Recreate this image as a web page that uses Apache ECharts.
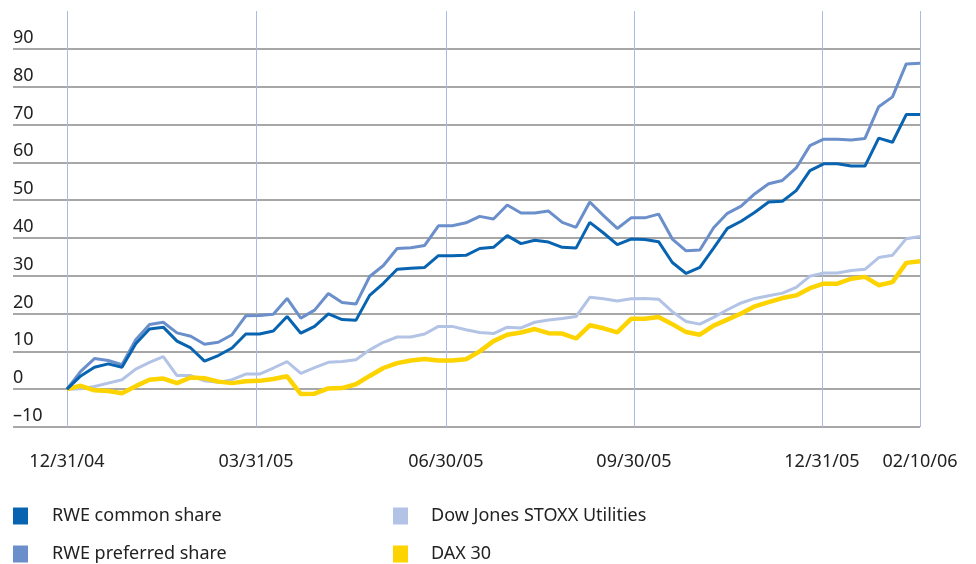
<!DOCTYPE html>
<html>
<head>
<meta charset="utf-8">
<script src="https://cdn.jsdelivr.net/npm/echarts@6/dist/echarts.min.js"></script>
<style>
  html, body { margin: 0; padding: 0; background: #fff; }
  #chart { width: 976px; height: 564px; }
</style>
</head>
<body>
<div id="chart"></div>
<script>
(function () {
    // x: week index of each weekly point (0 = 12/31/04)
    var dateLabels = ['12/31/04', '03/31/05', '06/30/05', '09/30/05', '12/31/05', '02/10/06'];
    var datePos = [0, 13.74, 27.54, 41.21, 54.87, 62];

    // performance in %, one value per week
    var rweCommon = [
        0, 3.5, 5.8, 6.7, 5.8, 12, 15.9, 16.4, 12.7, 10.9,
        7.4, 8.9, 10.9, 14.6, 14.6, 15.4, 19.2, 14.8, 16.6, 19.9,
        18.4, 18.2, 24.8, 28.0, 31.7, 32.0, 32.2, 35.3, 35.3, 35.4,
        37.2, 37.5, 40.6, 38.5, 39.4, 38.9, 37.5, 37.3, 44.1, 41.3,
        38.2, 39.7, 39.6, 39.0, 33.5, 30.6, 32.2, 37.3, 42.5, 44.4,
        46.8, 49.5, 49.7, 52.5, 57.8, 59.6, 59.6, 59.0, 59.0, 66.4,
        65.3, 72.6, 72.6
    ];
    var rwePreferred = [
        0, 4.7, 8.1, 7.6, 6.5, 13.1, 17.1, 17.7, 14.9, 14.0,
        11.9, 12.4, 14.4, 19.4, 19.5, 19.8, 24.0, 18.8, 20.9, 25.3,
        22.9, 22.5, 29.8, 32.7, 37.2, 37.4, 38.0, 43.2, 43.2, 44.0,
        45.7, 45.0, 48.7, 46.6, 46.6, 47.1, 44.1, 42.8, 49.5, 45.9,
        42.5, 45.3, 45.3, 46.3, 39.7, 36.6, 36.8, 42.7, 46.5, 48.4,
        51.7, 54.3, 55.2, 58.5, 64.4, 66.1, 66.1, 65.9, 66.3, 74.7,
        77.3, 86.0, 86.2
    ];
    var djStoxxUtil = [
        0, 0.1, 0.7, 1.6, 2.5, 5.3, 7.1, 8.6, 3.6, 3.6,
        2.2, 1.8, 2.5, 4.0, 4.0, 5.6, 7.3, 4.2, 5.7, 7.1,
        7.3, 7.8, 10.4, 12.4, 13.8, 13.8, 14.6, 16.6, 16.6, 15.7,
        15.0, 14.7, 16.4, 16.2, 17.7, 18.3, 18.7, 19.2, 24.3, 23.9,
        23.3, 23.9, 24.0, 23.8, 20.5, 17.9, 17.2, 19.0, 21.0, 22.8,
        24.0, 24.7, 25.4, 26.9, 29.9, 30.7, 30.7, 31.4, 31.7, 34.8,
        35.4, 39.8, 40.4
    ];
    var dax30 = [
        0, 0.9, -0.3, -0.5, -1.1, 0.8, 2.5, 2.8, 1.6, 3.1,
        2.9, 2.0, 1.6, 2.1, 2.2, 2.7, 3.4, -1.3, -1.2, 0.2,
        0.3, 1.3, 3.5, 5.6, 6.9, 7.6, 8.0, 7.6, 7.6, 7.9,
        10.0, 12.7, 14.4, 15.0, 15.9, 14.8, 14.7, 13.4, 16.9, 16.1,
        15.0, 18.6, 18.6, 19.1, 17.2, 15.1, 14.4, 16.8, 18.4, 20.0,
        21.9, 23.0, 24.1, 24.8, 26.7, 27.9, 27.9, 29.2, 29.7, 27.5,
        28.3, 33.4, 33.8
    ];

    var font = 'Noto Sans';
    var fontSize = 18;
    var textColor = '#222';

    function pairs(arr) {
        return arr.map(function (v, i) { return [i, v]; });
    }

    function lineSeries(name, data, color, width) {
        return {
            name: name,
            type: 'line',
            data: pairs(data),
            color: color,
            showSymbol: false,
            symbol: 'none',
            lineStyle: { color: color, width: width },
            z: 3
        };
    }

    var series = [
        lineSeries('Dow Jones STOXX Utilities', djStoxxUtil, '#b2c3e6', 3),
        lineSeries('DAX 30', dax30, '#fdd300', 4.5),
        lineSeries('RWE preferred share', rwePreferred, '#6b8fcb', 3),
        lineSeries('RWE common share', rweCommon, '#0864b0', 3)
    ];

    // vertical date lines + their labels
    series[0].markLine = {
        silent: true,
        symbol: 'none',
        z: 1,
        animation: false,
        lineStyle: { color: '#a9bbe3', width: 1, type: 'solid' },
        label: {
            position: 'start',
            formatter: '{b}',
            distance: 26,
            fontFamily: font,
            fontSize: fontSize,
            color: textColor
        },
        emphasis: { disabled: true },
        data: dateLabels.map(function (d, i) {
            return { name: d, xAxis: datePos[i] };
        })
    };

    function legend(left, names, pad) {
        return {
            left: left,
            top: 507,
            padding: 0,
            orient: 'vertical',
            icon: 'rect',
            itemWidth: 15,
            itemHeight: 17,
            itemGap: 20,
            selectedMode: false,
            textStyle: { fontFamily: font, fontSize: fontSize, color: textColor, padding: [0, 0, 0, pad] },
            data: names
        };
    }

    var option = {
        animation: false,
        backgroundColor: '#fff',
        grid: { left: 13, right: 56, top: 11, bottom: 137, containLabel: false },
        xAxis: {
            type: 'value',
            min: -3.92,
            max: 62,
            axisLine: { show: false },
            axisTick: { show: false },
            axisLabel: { show: false },
            splitLine: { show: false }
        },
        yAxis: {
            type: 'value',
            min: -10,
            max: 100,
            interval: 10,
            axisLine: { show: false },
            axisTick: { show: false },
            axisLabel: {
                inside: true,
                margin: 0,
                verticalAlign: 'bottom',
                padding: [0, 0, 2, 0],
                fontFamily: font,
                fontSize: fontSize,
                color: textColor,
                formatter: function (v) {
                    if (v === 100) return '';
                    return v < 0 ? '\u2013' + (-v) : String(v);
                }
            },
            splitLine: {
                show: true,
                showMaxLine: false,
                lineStyle: { color: '#8a8a8a', width: 1.5 }
            }
        },
        legend: [
            legend(13, ['RWE common share', 'RWE preferred share'], 19),
            legend(393, ['Dow Jones STOXX Utilities', 'DAX 30'], 18)
        ],
        series: series
    };

    var chart = echarts.init(document.getElementById('chart'));
    chart.setOption(option);
})();
</script>
</body>
</html>
